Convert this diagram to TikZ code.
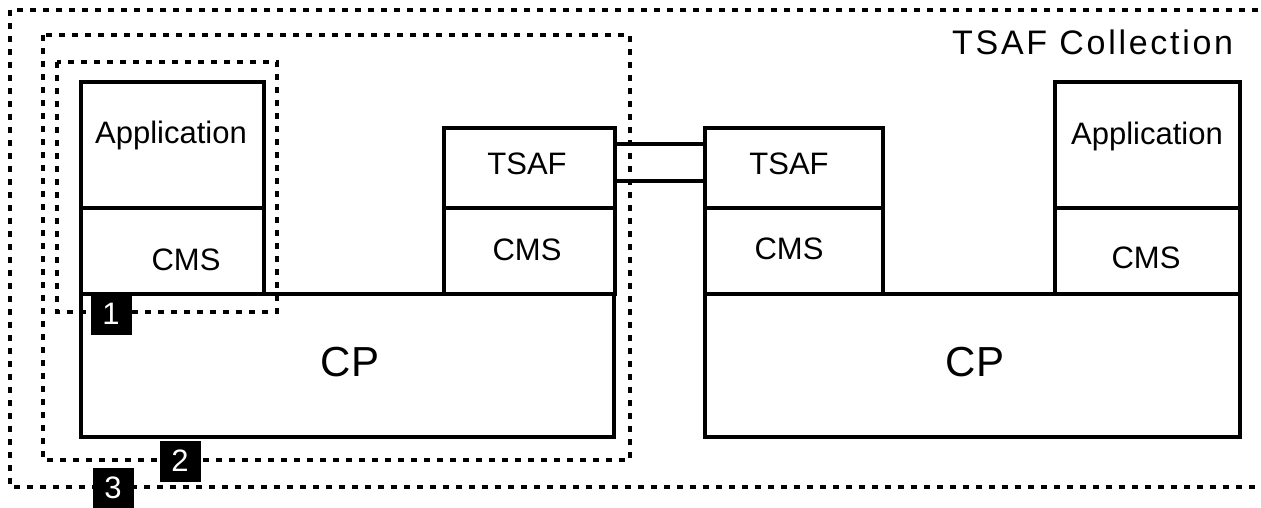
\documentclass[tikz,border=0pt]{standalone}
\usepackage{fontspec}
\setmainfont{Liberation Sans}
\newfontfamily\widefont[LetterSpace=8]{Liberation Sans}
\begin{document}
\begin{tikzpicture}[x=1pt,y=-1pt,
  box/.style={draw=black, line width=4pt, rectangle, inner sep=0pt, anchor=north west},
  lbl/.style={font=\fontsize{31}{33}\selectfont, inner sep=0pt},
  group/.style={draw=black, line width=4pt, dash pattern=on 6pt off 7pt},
  badge/.style={fill=black, text=white, minimum size=41pt, inner sep=0pt, font=\fontsize{31}{33}\selectfont},
  link/.style={draw=black, line width=4pt}]
\useasboundingbox (0,0) rectangle (1261,507);
% group borders
\draw[group] (1258,10) -- (10,10) -- (10,487) -- (1258,487);
\draw[group] (43,35) rectangle (630,460);
\draw[group] (57,62) rectangle (277,312);
% left system
\node[box, minimum width=533pt, minimum height=143pt] (cp1) at (79,292) {};
\node[box, minimum width=183pt, minimum height=86pt] (cms1) at (79,206) {};
\node[box, minimum width=183pt, minimum height=126pt] (app1) at (79,80) {};
\node[box, minimum width=171pt, minimum height=86pt] (cms2) at (442,206) {};
\node[box, minimum width=171pt, minimum height=80pt] (tsaf1) at (442,126) {};
% right system
\node[box, minimum width=535pt, minimum height=143pt] (cp2) at (703,292) {};
\node[box, minimum width=178pt, minimum height=86pt] (cms3) at (703,206) {};
\node[box, minimum width=178pt, minimum height=80pt] (tsaf2) at (703,126) {};
\node[box, minimum width=185pt, minimum height=86pt] (cms4) at (1053,206) {};
\node[box, minimum width=185pt, minimum height=126pt] (app2) at (1053,80) {};
% TSAF links
\draw[link] ([yshift=-18pt]tsaf1.north east) -- ([yshift=-18pt]tsaf2.north west);
\draw[link] ([yshift=-55pt]tsaf1.north east) -- ([yshift=-55pt]tsaf2.north west);
% labels
\node[lbl] (t1) at (171,135) {Application};
\node[lbl] (t2) at (186,260) {CMS};
\node[lbl] (t3) at (527,164) {TSAF};
\node[lbl] (t4) at (527,250) {CMS};
\node[lbl] (t5) at (789,164) {TSAF};
\node[lbl] (t6) at (789,249) {CMS};
\node[lbl] (t7) at (1147,136) {Application};
\node[lbl] (t8) at (1146,258) {CMS};
\node[lbl, font=\fontsize{42}{44}\selectfont] (t9) at (350,362) {CP};
\node[lbl, font=\fontsize{42}{44}\selectfont] (t10) at (975,362) {CP};
\node[lbl, font=\widefont\fontsize{34}{36}\selectfont, anchor=west] (t11) at (952,42) {TSAF Collection};
% badges
\node[badge] (b1) at (111,314) {1};
\node[badge] (b2) at (180,461) {2};
\node[badge] (b3) at (113,488) {3};
\end{tikzpicture}
\end{document}
